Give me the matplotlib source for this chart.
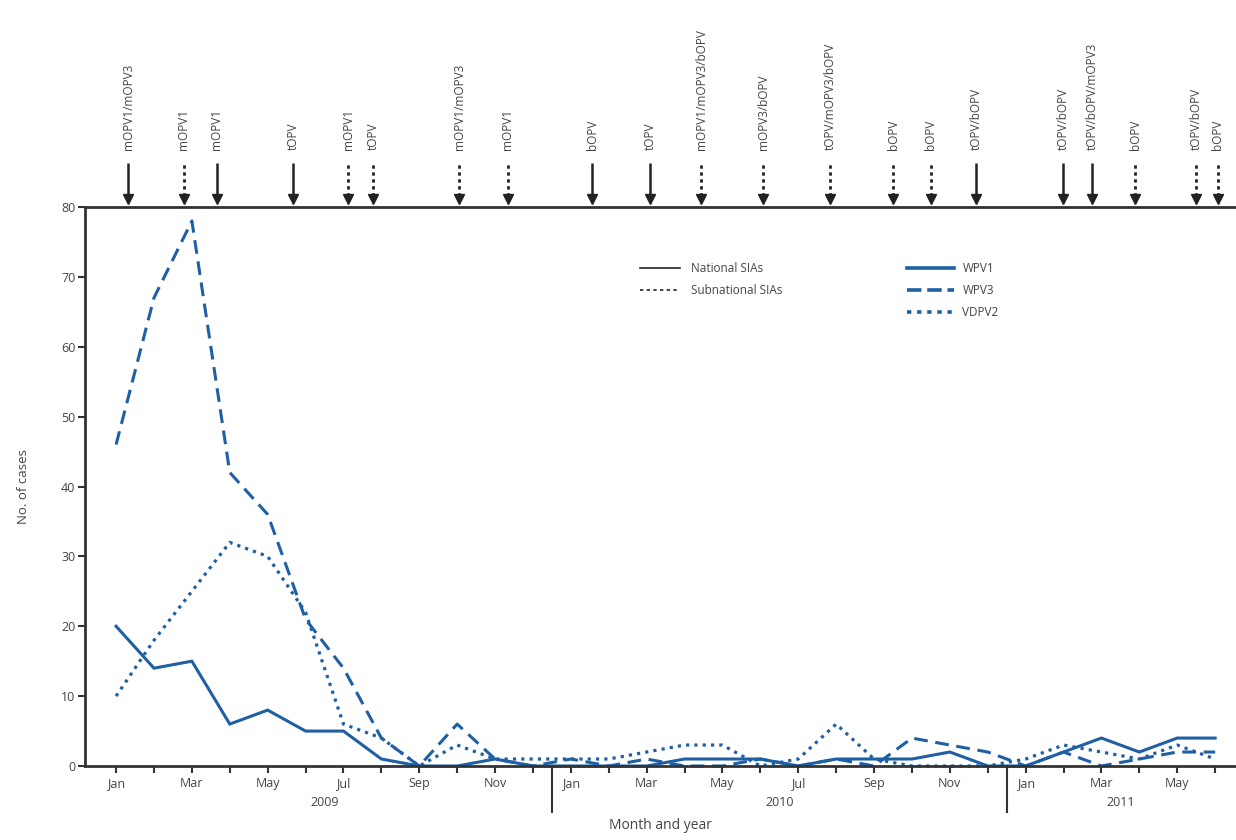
import matplotlib
matplotlib.use("Agg")
import matplotlib.pyplot as plt
import matplotlib.transforms as mtransforms
from matplotlib.lines import Line2D

plt.rcParams['font.family'] = ['Open Sans', 'DejaVu Sans']

# ---------------- data ----------------
months = list(range(30))  # Jan 2009 .. Jun 2011
month_names = ['Jan', 'Feb', 'Mar', 'Apr', 'May', 'Jun',
               'Jul', 'Aug', 'Sep', 'Oct', 'Nov', 'Dec']
years = ['2009', '2010', '2011']
year_centers = [5.5, 17.5, 26.5]
year_breaks = [11.5, 23.5]

wpv1 = [20, 14, 15, 6, 8, 5, 5, 1, 0, 0, 1, 0,
        0, 0, 0, 1, 1, 1, 0, 1, 1, 1, 2, 0,
        0, 2, 4, 2, 4, 4]
wpv3 = [46, 67, 78, 42, 36, 21, 14, 4, 0, 6, 1, 0,
        1, 0, 1, 0, 0, 1, 0, 1, 0, 4, 3, 2,
        0, 2, 0, 1, 2, 2]
vdpv2 = [10, 18, 25, 32, 30, 22, 6, 4, 0, 3, 1, 1,
         1, 1, 2, 3, 3, 0, 1, 6, 1, 0, 0, 0,
         1, 3, 2, 1, 3, 1]

sia_months = [0.32, 1.79, 2.66, 4.67, 6.12, 6.78, 9.05, 10.34, 12.56, 14.09,
              15.44, 17.07, 18.84, 20.5, 21.5, 22.7, 24.99, 25.75, 26.89,
              28.5, 29.07]
sia_labels = ['mOPV1/mOPV3', 'mOPV1', 'mOPV1', 'tOPV', 'mOPV1', 'tOPV',
              'mOPV1/mOPV3', 'mOPV1', 'bOPV', 'tOPV', 'mOPV1/mOPV3/bOPV',
              'mOPV3/bOPV', 'tOPV/mOPV3/bOPV', 'bOPV', 'bOPV', 'tOPV/bOPV',
              'tOPV/bOPV', 'tOPV/bOPV/mOPV3', 'bOPV', 'tOPV/bOPV', 'bOPV']
sia_national = [True, False, True, True, False, False, False, False, True,
                True, False, False, False, False, False, True, True, True,
                False, False, False]

# ---------------- styling ----------------
BLUE = '#1f5fa3'
DARK = '#333333'
TXT = '#444444'

W, H = 1236, 840
fig = plt.figure(figsize=(W / 100, H / 100), dpi=100)
ax_l, ax_r, ax_b, ax_t = 85, 1236, 766, 207
ax = fig.add_axes([ax_l / W, 1 - ax_b / H, (ax_r - ax_l) / W, (ax_b - ax_t) / H])

ax.plot(months, wpv1, color=BLUE, lw=2.2, solid_joinstyle='miter', label='WPV1', clip_on=False)
ax.plot(months, wpv3, color=BLUE, lw=2.2, dashes=(4.5, 2.5), label='WPV3', clip_on=False)
ax.plot(months, vdpv2, color=BLUE, lw=2.3, dashes=(1.0, 1.6), label='VDPV2', clip_on=False)

ax.set_xlim(-0.82, 29.55)
ax.set_ylim(0, 80)

for s in ['left', 'bottom', 'top']:
    ax.spines[s].set_color(DARK)
    ax.spines[s].set_linewidth(2.0)
ax.spines['right'].set_visible(False)

ax.set_yticks(range(0, 81, 10))
ax.tick_params(axis='y', direction='out', length=5, width=1.5, color=DARK,
               labelsize=9, labelcolor=TXT, pad=2)
ax.set_xticks(months)
ax.set_xticklabels([month_names[m % 12] if m % 2 == 0 else '' for m in months])
ax.tick_params(axis='x', direction='out', length=5, width=1.5, color=DARK,
               labelsize=9, labelcolor=TXT, pad=3)

trans = mtransforms.blended_transform_factory(ax.transData, ax.transAxes)
for yc, yr in zip(year_centers, years):
    ax.text(yc, -0.066, yr, transform=trans, ha='center', va='center',
            fontsize=9, color=TXT)
for xb in year_breaks:
    ax.plot([xb, xb], [0, -0.083], transform=trans, color=DARK, lw=1.5,
            clip_on=False)

ax.set_xlabel('Month and year', fontsize=10, color=TXT, labelpad=20)
ax.set_ylabel('No. of cases', fontsize=9.5, color=TXT, labelpad=22)

# SIA arrows
y_tip = 1.0072
y_top = 1.079
for xm, lab, nat in zip(sia_months, sia_labels, sia_national):
    if nat:
        ax.plot([xm, xm], [y_tip + 0.012, y_top], transform=trans, color='#222222',
                lw=1.8, clip_on=False, solid_capstyle='butt')
    else:
        ax.plot([xm, xm], [y_tip + 0.012, y_top], transform=trans, color='#222222',
                lw=2.0, dashes=(1.2, 1.3), clip_on=False)
    ax.plot([xm], [y_tip + 0.008], transform=trans, marker='v', ms=7,
            color='#222222', clip_on=False)
    ax.text(xm, 1.102, lab, transform=trans, rotation=90, ha='center',
            va='bottom', fontsize=8.5, color=TXT)

# legends
h1 = [Line2D([], [], color='#222222', lw=1.2),
      Line2D([], [], color='#222222', lw=1.2, dashes=(2, 2))]
leg1 = fig.legend(h1, ['National SIAs', 'Subnational SIAs'], loc='upper left',
                  bbox_to_anchor=(640 / W, 1 - 262 / H), frameon=False,
                  fontsize=8.5, handlelength=3.4, handletextpad=0.9,
                  labelspacing=0.75, borderpad=0, borderaxespad=0)
for t in leg1.get_texts():
    t.set_color(TXT)
h2 = [Line2D([], [], color=BLUE, lw=2.6),
      Line2D([], [], color=BLUE, lw=2.6, dashes=(4, 1.6)),
      Line2D([], [], color=BLUE, lw=2.6, dashes=(1.2, 1.6))]
leg2 = fig.legend(h2, ['WPV1', 'WPV3', 'VDPV2'], loc='upper left',
                  bbox_to_anchor=(907 / W, 1 - 262 / H), frameon=False,
                  fontsize=8.5, handlelength=4.0, handletextpad=0.7,
                  labelspacing=0.75, borderpad=0, borderaxespad=0)
for t in leg2.get_texts():
    t.set_color(TXT)

fig.savefig('out.png', dpi=100)
